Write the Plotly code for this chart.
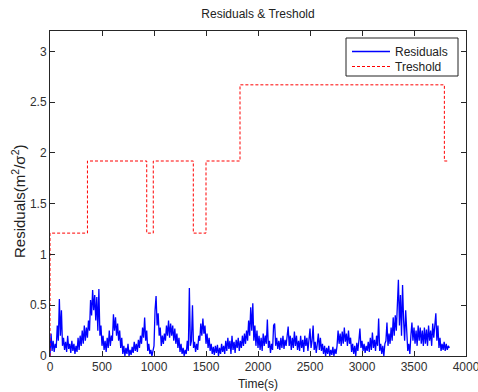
import plotly.graph_objects as go

# Residual samples, one every 10 s from 0 s to 3840 s
time_step = 10
residuals = [
    0.00, 0.22, 0.05, 0.15, 0.04, 0.12, 0.08, 0.30, 0.15, 0.56, 0.20, 0.45, 0.10, 0.18, 0.06, 0.14, 0.04, 0.20, 0.07, 0.12,
    0.03, 0.15, 0.05, 0.12, 0.02, 0.10, 0.04, 0.18, 0.06, 0.20, 0.10, 0.25, 0.12, 0.30, 0.15, 0.28, 0.18, 0.35, 0.25, 0.55,
    0.40, 0.65, 0.45, 0.60, 0.35, 0.58, 0.25, 0.66, 0.20, 0.30, 0.10, 0.20, 0.06, 0.15, 0.04, 0.18, 0.08, 0.25, 0.10, 0.20,
    0.15, 0.41, 0.25, 0.38, 0.20, 0.32, 0.15, 0.25, 0.08, 0.18, 0.02, 0.10, 0.00, 0.08, 0.02, 0.12, 0.00, 0.06, 0.01, 0.09,
    0.03, 0.14, 0.05, 0.12, 0.04, 0.16, 0.08, 0.20, 0.12, 0.28, 0.18, 0.38, 0.15, 0.25, 0.05, 0.12, 0.02, 0.06, 0.00, 0.04,
    0.10, 0.45, 0.59, 0.30, 0.42, 0.20, 0.28, 0.10, 0.20, 0.12, 0.22, 0.15, 0.30, 0.20, 0.35, 0.18, 0.32, 0.20, 0.30, 0.15,
    0.27, 0.12, 0.22, 0.08, 0.18, 0.04, 0.12, 0.02, 0.08, 0.00, 0.06, 0.02, 0.15, 0.05, 0.67, 0.10, 0.15, 0.50, 0.08, 0.14,
    0.04, 0.12, 0.06, 0.20, 0.15, 0.32, 0.20, 0.37, 0.22, 0.30, 0.12, 0.22, 0.08, 0.18, 0.05, 0.12, 0.02, 0.09, 0.01, 0.10,
    0.03, 0.11, 0.00, 0.08, 0.02, 0.12, 0.04, 0.10, 0.02, 0.15, 0.05, 0.18, 0.07, 0.15, 0.02, 0.20, 0.06, 0.14, 0.03, 0.16,
    0.08, 0.18, 0.05, 0.15, 0.08, 0.20, 0.10, 0.22, 0.12, 0.25, 0.15, 0.35, 0.20, 0.48, 0.25, 0.52, 0.15, 0.30, 0.10, 0.25,
    0.08, 0.20, 0.06, 0.18, 0.05, 0.22, 0.10, 0.20, 0.12, 0.36, 0.08, 0.15, 0.03, 0.12, 0.06, 0.30, 0.32, 0.10, 0.18, 0.07,
    0.15, 0.06, 0.18, 0.08, 0.20, 0.07, 0.16, 0.10, 0.22, 0.29, 0.10, 0.20, 0.06, 0.18, 0.08, 0.24, 0.10, 0.20, 0.06, 0.15,
    0.05, 0.20, 0.08, 0.16, 0.04, 0.20, 0.10, 0.18, 0.05, 0.15, 0.27, 0.08, 0.15, 0.30, 0.06, 0.14, 0.03, 0.12, 0.22, 0.06,
    0.18, 0.05, 0.12, 0.02, 0.10, 0.00, 0.08, 0.02, 0.10, 0.00, 0.06, 0.01, 0.09, 0.00, 0.07, 0.02, 0.10, 0.25, 0.12, 0.22,
    0.10, 0.24, 0.12, 0.28, 0.14, 0.22, 0.10, 0.25, 0.12, 0.18, 0.04, 0.12, 0.02, 0.10, 0.00, 0.13, 0.05, 0.15, 0.27, 0.08,
    0.15, 0.05, 0.12, 0.03, 0.10, 0.05, 0.14, 0.04, 0.18, 0.06, 0.23, 0.08, 0.16, 0.05, 0.20, 0.10, 0.37, 0.05, 0.12, 0.02,
    0.10, 0.00, 0.12, 0.15, 0.33, 0.10, 0.22, 0.12, 0.28, 0.15, 0.38, 0.20, 0.40, 0.25, 0.55, 0.75, 0.30, 0.60, 0.20, 0.70,
    0.35, 0.15, 0.45, 0.20, 0.05, 0.12, 0.02, 0.20, 0.33, 0.15, 0.28, 0.12, 0.25, 0.10, 0.30, 0.15, 0.28, 0.12, 0.25, 0.10,
    0.28, 0.12, 0.26, 0.10, 0.30, 0.15, 0.25, 0.10, 0.32, 0.18, 0.35, 0.42, 0.15, 0.30, 0.08, 0.18, 0.05, 0.12, 0.06, 0.14,
    0.05, 0.12, 0.06, 0.10, 0.08,
]
residual_time = [i * time_step for i in range(len(residuals))]

# Threshold: level changes (time in s, level held until the next change)
threshold_time = [0, 0, 360, 930, 993, 1378, 1500, 1827, 3792, 3824]
threshold_level = [0.0, 1.21, 1.92, 1.21, 1.92, 1.21, 1.92, 2.67, 1.92, 1.92]

x_ticks = [0, 500, 1000, 1500, 2000, 2500, 3000, 3500, 4000]
y_ticks = [0, 0.5, 1, 1.5, 2, 2.5, 3]
y_tick_labels = ["0", "0.5", "1", "1.5", "2", "2.5", "3"]

font_family = "Liberation Sans, Arial, sans-serif"
axis_color = "#262626"

W, H = 478, 392
ML, MR, MT, MB = 50, 12, 31, 36
pw, ph = W - ML - MR, H - MT - MB


def px_to_paper_x(px):
    return (px - ML) / pw


def px_to_paper_y(py):
    return (H - MB - py) / ph


fig = go.Figure()
fig.add_trace(go.Scatter(
    x=residual_time, y=residuals, mode="lines", name="Residuals",
    line=dict(color="#0000ff", width=1.3), legend="legend",
))
fig.add_trace(go.Scatter(
    x=threshold_time, y=threshold_level, mode="lines", name="Treshold",
    line=dict(color="#ff0000", width=1, dash="3px,2px", shape="hv"),
    legend="legend2",
))

axis_common = dict(
    showline=True, linecolor=axis_color, linewidth=1, mirror="ticks",
    ticks="inside", ticklen=5, tickcolor=axis_color, tickwidth=1,
    showgrid=False, zeroline=False, automargin=False,
    tickfont=dict(family=font_family, size=12, color="#303030"),
)

# Legend frame around both legend entries
box_x0, box_x1, box_y0, box_y1 = 346, 458, 38, 76
fig.add_shape(
    type="rect", xref="paper", yref="paper",
    x0=px_to_paper_x(box_x0), x1=px_to_paper_x(box_x1),
    y0=px_to_paper_y(box_y1), y1=px_to_paper_y(box_y0),
    line=dict(color="#222222", width=1), fillcolor="white", layer="below",
)

# Rotated y-axis label
fig.add_annotation(
    text="Residuals(m<sup>2</sup>/σ<sup>2</sup>)", textangle=-90,
    xref="paper", yref="paper",
    x=px_to_paper_x(18), y=px_to_paper_y(202),
    xanchor="center", yanchor="middle", showarrow=False,
    font=dict(family=font_family, size=15, color="#222222"),
)

legend_font = dict(family=font_family, size=12, color="#222222")

fig.update_layout(
    width=W, height=H,
    margin=dict(l=ML, r=MR, t=MT, b=MB),
    paper_bgcolor="white", plot_bgcolor="white",
    font=dict(family=font_family, color="#222222"),
    title=dict(text="Residuals & Treshold", x=(ML + pw / 2) / W, xanchor="center",
               y=1 - 14 / H, yanchor="middle", automargin=False,
               font=dict(family=font_family, size=12, color="#222222")),
    showlegend=True,
    legend=dict(x=px_to_paper_x(box_x0 + 1), y=px_to_paper_y(37),
                xanchor="left", yanchor="top", xref="paper", yref="paper",
                bgcolor="rgba(0,0,0,0)", borderwidth=0,
                font=legend_font, itemwidth=38),
    legend2=dict(x=px_to_paper_x(box_x0 + 1), y=px_to_paper_y(52),
                 xanchor="left", yanchor="top", xref="paper", yref="paper",
                 bgcolor="rgba(0,0,0,0)", borderwidth=0,
                 font=legend_font, itemwidth=38),
    xaxis=dict(range=[0, 4000], tickvals=x_ticks, ticklabeloverflow="allow",
               title=dict(text="Time(s)", standoff=6,
                          font=dict(family=font_family, size=12, color="#222222")),
               **axis_common),
    yaxis=dict(range=[0, 3.2], tickvals=y_ticks, ticktext=y_tick_labels,
               ticklabeloverflow="allow",
               **axis_common),
)

fig.write_html("out.html")
